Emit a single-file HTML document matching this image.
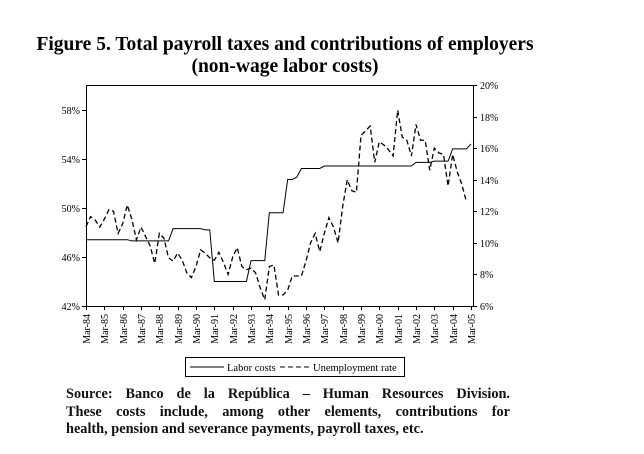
<!DOCTYPE html>
<html><head><meta charset="utf-8"><style>
body{margin:0;background:#fff;width:644px;height:454px;overflow:hidden;font-family:"Liberation Serif",serif}
.src{position:absolute;left:66px;width:444px;font-weight:bold;font-size:14.3px;line-height:17.5px;text-align:justify;text-align-last:justify;color:#111}
</style></head><body>
<svg width="644" height="454" style="position:absolute;left:0;top:0" font-family="Liberation Serif, serif">
<text x="285" y="50" text-anchor="middle" font-size="19.5" font-weight="bold">Figure 5. Total payroll taxes and contributions of employers</text>
<text x="285" y="72" text-anchor="middle" font-size="19.5" font-weight="bold">(non-wage labor costs)</text>
<g id="axes"></g>
<g id="series"></g>
<g>
<rect x="185.5" y="357.5" width="219" height="19" fill="#fff" stroke="#000"/>
<line x1="190" y1="367" x2="224" y2="367" stroke="#000"/>
<text x="227" y="371" font-size="10.5">Labor costs</text>
<line x1="280" y1="367" x2="310" y2="367" stroke="#000" stroke-dasharray="5,3"/>
<text x="313" y="371" font-size="10.5">Unemployment rate</text>
</g>
</svg>
<div class="src" style="top:386px">Source: Banco de la República – Human Resources Division.</div>
<div class="src" style="top:403.5px">These costs include, among other elements, contributions for</div>
<div class="src" style="top:421px;text-align-last:left">health, pension and severance payments, payroll taxes, etc.</div>
<script>
const yearLabels=["Mar-84","Mar-85","Mar-86","Mar-87","Mar-88","Mar-89","Mar-90","Mar-91","Mar-92","Mar-93","Mar-94","Mar-95","Mar-96","Mar-97","Mar-98","Mar-99","Mar-00","Mar-01","Mar-02","Mar-03","Mar-04","Mar-05"];
const leftTicks=[42,46,50,54,58];
const rightTicks=[6,8,10,12,14,16,18,20];
const laborCosts=[47.4,47.4,47.4,47.4,47.4,47.4,47.4,47.4,47.4,47.4,
47.3,47.3,47.3,47.3,47.3,47.3,47.3,47.3,47.3,
48.3,48.3,48.3,48.3,48.3,48.3,48.3,48.2,48.2,
44.0,44.0,44.0,44.0,44.0,44.0,44.0,44.0,
45.7,45.7,45.7,45.7,
49.6,49.6,49.6,49.6,
52.3,52.3,52.5,
53.2,53.2,53.2,53.2,53.2,
53.4,53.4,53.4,53.4,53.4,53.4,53.4,53.4,53.4,53.4,53.4,53.4,53.4,53.4,53.4,53.4,53.4,53.4,53.4,53.4,
53.7,53.7,53.7,53.7,
53.8,53.8,53.8,53.8,
54.8,54.8,54.8,54.8,
55.2];
const unemployment=[11.03,11.66,11.45,11.0,11.5,12.1,12.0,10.6,11.2,12.4,
11.5,10.2,11.0,10.4,9.8,8.7,10.6,10.3,9.05,8.85,
9.35,8.9,8.1,7.8,8.5,9.55,9.35,9.05,8.9,9.4,
8.75,8.0,9.1,9.7,8.5,8.3,8.4,8.1,7.15,6.4,
8.5,8.6,6.7,6.7,7.0,7.9,7.9,7.9,8.85,10.0,
10.6,9.45,10.6,11.6,11.0,10.0,12.3,14.0,13.3,13.2,
16.8,17.1,17.4,15.1,16.4,16.2,15.9,15.5,18.4,16.7,
16.5,15.5,17.5,16.5,16.5,14.6,16.0,15.7,15.6,13.6,
15.6,14.5,13.7,12.6];
const NS="http://www.w3.org/2000/svg";
const X0=86,X1=473,Y0=306,YT=85,QW=385/84;
const xq=i=>X0+i*QW;
const yL=v=>Y0-(v-42)*(Y0-YT)/18;
const yR=v=>Y0-(v-6)*(Y0-YT)/14;
function mk(t,a,p){const e=document.createElementNS(NS,t);for(const k in a)e.setAttribute(k,a[k]);p.appendChild(e);return e;}
const ax=document.getElementById('axes');
const frame=mk('path',{d:`M${X0+.5},${Y0+.5}V${YT+.5}H${X1+.5}V${Y0+.5}H${X0+.5}`,fill:'none',stroke:'#000','stroke-width':1},ax);


leftTicks.forEach(v=>{const y=Math.round(yL(v))+.5;
mk('line',{x1:X0-4,y1:y,x2:X0,y2:y,stroke:'#000'},ax);
const t=mk('text',{x:X0-6,y:y+3.5,'text-anchor':'end','font-size':10},ax);t.textContent=v+'%';

});
rightTicks.forEach(v=>{const y=Math.round(yR(v))+.5;
mk('line',{x1:X1,y1:y,x2:X1+4,y2:y,stroke:'#000'},ax);
const t=mk('text',{x:X1+7,y:y+3.5,'font-size':10},ax);t.textContent=v+'%';

});
yearLabels.forEach((l,i)=>{const x=Math.round(X0+i*4*QW)+.5;
mk('line',{x1:x,y1:Y0,x2:x,y2:Y0+4,stroke:'#000'},ax);
const t=mk('text',{x:0,y:0,'text-anchor':'end','font-size':10,transform:`translate(${x+3.5},${Y0+8}) rotate(-90)`},ax);t.textContent=l;

});
const sg=document.getElementById('series');
const lp=mk('polyline',{points:laborCosts.map((v,i)=>xq(i)+','+yL(v)).join(' '),fill:'none',stroke:'#000','stroke-width':1},sg);


const up=mk('polyline',{points:unemployment.map((v,i)=>xq(i)+','+yR(v)).join(' '),fill:'none',stroke:'#000','stroke-width':1.3,'stroke-dasharray':'5,3'},sg);


</script>
</body></html>
